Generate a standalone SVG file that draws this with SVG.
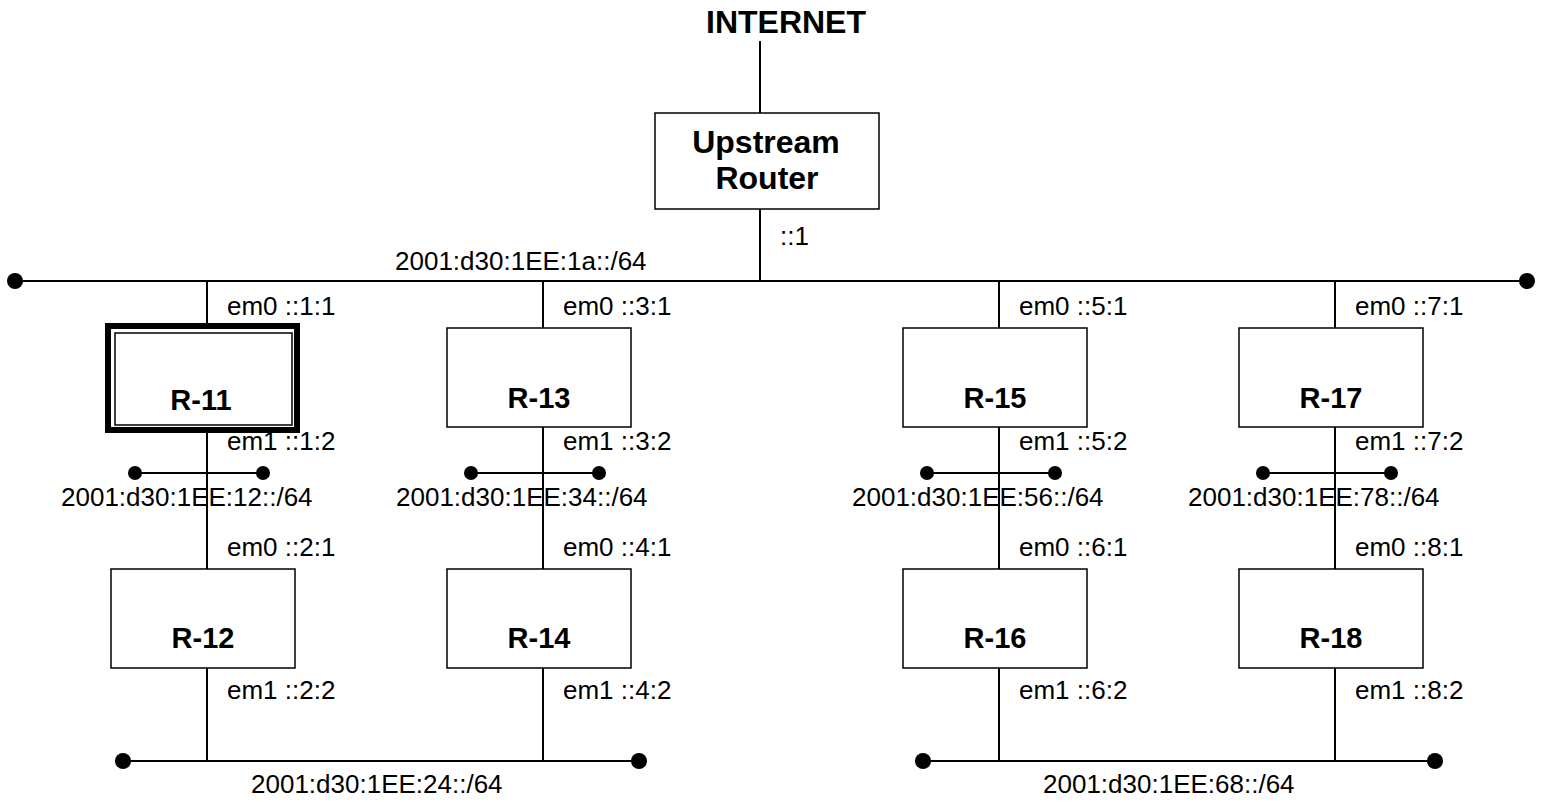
<svg xmlns="http://www.w3.org/2000/svg" width="1546" height="802" viewBox="0 0 1546 802">
<style>
.ln{stroke:#000;stroke-width:2;fill:none}
.box{fill:#fff;stroke:#000;stroke-width:1.5}
.dot{fill:#000}
.t{font-family:"Liberation Sans",Arial,sans-serif;font-size:26px;fill:#000}
.b{font-family:"Liberation Sans",Arial,sans-serif;font-weight:bold;font-size:29px;fill:#000;text-anchor:middle}
.bt{font-family:"Liberation Sans",Arial,sans-serif;font-weight:bold;font-size:32px;fill:#000;text-anchor:middle}
</style>
<g id="connectors">
<line class="ln" x1="760" y1="41" x2="760" y2="113"/>
<line class="ln" x1="760" y1="209" x2="760" y2="281"/>
<line class="ln" x1="15" y1="281" x2="1527" y2="281"/>
<circle class="dot" cx="15" cy="281" r="8"/>
<circle class="dot" cx="1527" cy="281" r="8"/>
<line class="ln" x1="207" y1="281" x2="207" y2="761"/>
<line class="ln" x1="543" y1="281" x2="543" y2="761"/>
<line class="ln" x1="999" y1="281" x2="999" y2="761"/>
<line class="ln" x1="1335" y1="281" x2="1335" y2="761"/>
<line class="ln" x1="135" y1="473" x2="263" y2="473"/>
<circle class="dot" cx="135" cy="473" r="7"/><circle class="dot" cx="263" cy="473" r="7"/>
<line class="ln" x1="471" y1="473" x2="599" y2="473"/>
<circle class="dot" cx="471" cy="473" r="7"/><circle class="dot" cx="599" cy="473" r="7"/>
<line class="ln" x1="927" y1="473" x2="1055" y2="473"/>
<circle class="dot" cx="927" cy="473" r="7"/><circle class="dot" cx="1055" cy="473" r="7"/>
<line class="ln" x1="1263" y1="473" x2="1391" y2="473"/>
<circle class="dot" cx="1263" cy="473" r="7"/><circle class="dot" cx="1391" cy="473" r="7"/>
<line class="ln" x1="123" y1="761" x2="639" y2="761"/>
<circle class="dot" cx="123" cy="761" r="8"/><circle class="dot" cx="639" cy="761" r="8"/>
<line class="ln" x1="923" y1="761" x2="1435" y2="761"/>
<circle class="dot" cx="923" cy="761" r="8"/><circle class="dot" cx="1435" cy="761" r="8"/>
</g>
<g id="labels">
<text class="bt" x="786" y="33">INTERNET</text>
<text class="t" x="780" y="245">::1</text>
<text class="t" x="395" y="270">2001:d30:1EE:1a::/64</text>
<text class="t" x="227" y="315">em0 ::1:1</text>
<text class="t" x="563" y="315">em0 ::3:1</text>
<text class="t" x="1019" y="315">em0 ::5:1</text>
<text class="t" x="1355" y="315">em0 ::7:1</text>
<text class="t" x="227" y="450">em1 ::1:2</text>
<text class="t" x="563" y="450">em1 ::3:2</text>
<text class="t" x="1019" y="450">em1 ::5:2</text>
<text class="t" x="1355" y="450">em1 ::7:2</text>
<text class="t" x="61" y="506">2001:d30:1EE:12::/64</text>
<text class="t" x="396" y="506">2001:d30:1EE:34::/64</text>
<text class="t" x="852" y="506">2001:d30:1EE:56::/64</text>
<text class="t" x="1188" y="506">2001:d30:1EE:78::/64</text>
<text class="t" x="227" y="556">em0 ::2:1</text>
<text class="t" x="563" y="556">em0 ::4:1</text>
<text class="t" x="1019" y="556">em0 ::6:1</text>
<text class="t" x="1355" y="556">em0 ::8:1</text>
<text class="t" x="227" y="699">em1 ::2:2</text>
<text class="t" x="563" y="699">em1 ::4:2</text>
<text class="t" x="1019" y="699">em1 ::6:2</text>
<text class="t" x="1355" y="699">em1 ::8:2</text>
<text class="t" x="251" y="793">2001:d30:1EE:24::/64</text>
<text class="t" x="1043" y="793">2001:d30:1EE:68::/64</text>
</g>
<g id="upstream">
<rect class="box" x="655" y="113" width="224" height="96"/>
<text class="bt" x="766" y="153">Upstream</text>
<text class="bt" x="767" y="189">Router</text>
</g>
<g id="r11">
<rect x="108" y="326" width="189" height="104" fill="#fff" stroke="#000" stroke-width="6"/>
<rect x="115" y="333" width="177" height="92" fill="none" stroke="#000" stroke-width="1.5"/>
<text class="b" x="201" y="410">R-11</text>
</g>
<g id="r13"><rect class="box" x="447" y="328" width="184" height="99"/><text class="b" x="539" y="408">R-13</text></g>
<g id="r15"><rect class="box" x="903" y="328" width="184" height="99"/><text class="b" x="995" y="408">R-15</text></g>
<g id="r17"><rect class="box" x="1239" y="328" width="184" height="99"/><text class="b" x="1331" y="408">R-17</text></g>
<g id="r12"><rect class="box" x="111" y="569" width="184" height="99"/><text class="b" x="203" y="648">R-12</text></g>
<g id="r14"><rect class="box" x="447" y="569" width="184" height="99"/><text class="b" x="539" y="648">R-14</text></g>
<g id="r16"><rect class="box" x="903" y="569" width="184" height="99"/><text class="b" x="995" y="648">R-16</text></g>
<g id="r18"><rect class="box" x="1239" y="569" width="184" height="99"/><text class="b" x="1331" y="648">R-18</text></g>
</svg>
